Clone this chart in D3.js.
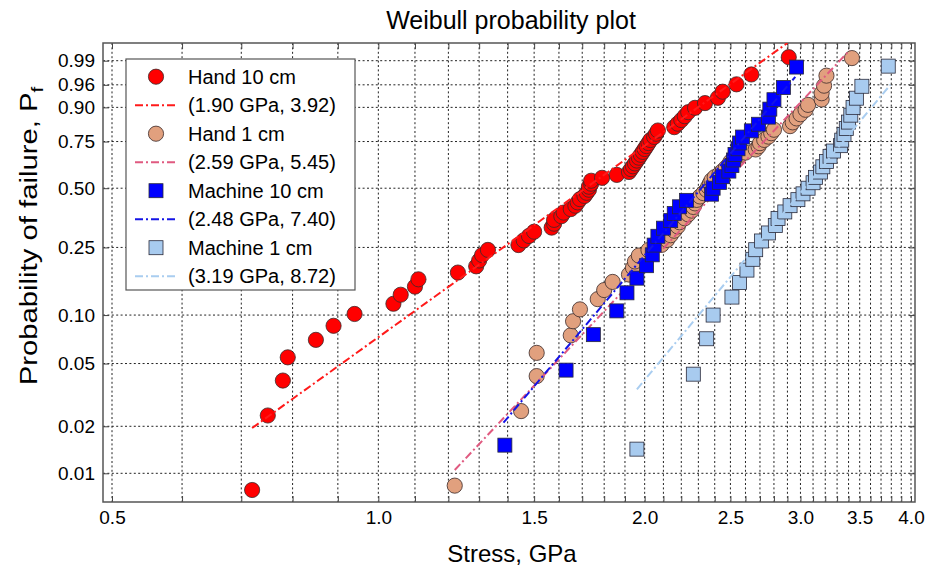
<!DOCTYPE html>
<html>
<head>
<meta charset="utf-8">
<script src="https://cdn.jsdelivr.net/npm/d3@7"></script>
<style>
  body { margin: 0; background: #fff; }
  text { font-family: "Liberation Sans", Arial, sans-serif; fill: #000; }
</style>
</head>
<body>
<div id="chart"></div>
<script>
// Stress values (GPa), sorted, one array per specimen set
const hand10Stress = [0.72,0.75,0.78,0.79,0.85,0.89,0.94,1.04,1.06,1.10,
  1.11,1.23,1.29,1.30,1.31,1.33,1.44,1.46,1.48,1.50,
  1.57,1.58,1.58,1.61,1.62,1.65,1.67,1.68,1.69,1.71,
  1.72,1.73,1.73,1.74,1.74,1.79,1.86,1.92,1.93,1.94,
  1.95,1.96,1.97,1.98,1.99,2.00,2.01,2.02,2.03,2.05,
  2.06,2.07,2.16,2.18,2.20,2.22,2.24,2.28,2.34,2.42,
  2.45,2.54,2.64,2.91];
const hand1Stress = [1.22,1.45,1.51,1.51,1.65,1.66,1.69,1.77,1.80,1.84,
  1.92,1.94,1.95,1.97,2.02,2.09,2.12,2.14,2.16,2.18,
  2.19,2.22,2.24,2.26,2.27,2.28,2.29,2.31,2.33,2.35,
  2.36,2.37,2.38,2.40,2.43,2.45,2.47,2.49,2.50,2.53,
  2.56,2.60,2.67,2.69,2.70,2.73,2.76,2.78,2.80,2.92,
  2.94,2.97,3.00,3.04,3.06,3.17,3.17,3.19,3.21,3.43];
const machine10Stress = [1.39,1.63,1.75,1.86,1.91,1.96,2.01,2.04,2.05,2.07,
  2.10,2.14,2.16,2.19,2.23,2.38,2.39,2.43,2.45,2.49,
  2.51,2.52,2.53,2.55,2.56,2.58,2.64,2.69,2.76,2.77,
  2.80,2.87,2.97];
const machine1Stress = [1.96,2.27,2.35,2.39,2.51,2.56,2.61,2.65,2.67,2.71,
  2.76,2.81,2.83,2.88,2.92,2.98,3.02,3.06,3.10,3.12,
  3.16,3.18,3.21,3.24,3.27,3.33,3.34,3.36,3.38,3.40,
  3.42,3.44,3.47,3.52,3.77];

// Fitted Weibull lines: [stress, Pf] end points as drawn
const fitHand10 = [[0.72, 0.0195], [2.90, 0.9975]];
const fitHand1 = [[1.22, 0.0105], [3.41, 0.9954]];
const fitMachine10 = [[1.385, 0.0211], [2.96, 0.9734]];
const fitMachine1 = [[1.96, 0.0344], [3.79, 0.9598]];

const seriesNames = ['Hand 10 cm', 'Hand 1 cm', 'Machine 10 cm', 'Machine 1 cm'];
const fitLabels = ['(1.90 GPa, 3.92)', '(2.59 GPa, 5.45)', '(2.48 GPa, 7.40)', '(3.19 GPa, 8.72)'];

const xTickValues = [0.5, 1.0, 1.5, 2.0, 2.5, 3.0, 3.5, 4.0];
const yTickValues = [0.01, 0.02, 0.05, 0.10, 0.25, 0.50, 0.75, 0.90, 0.96, 0.99];

const width = 936, height = 567;
const box = {left: 103, right: 915, top: 43, bottom: 502};

// Weibull probability transform
const weib = p => Math.log(-Math.log(1 - p));
// median rank plotting position for sorted data
const ranked = arr => arr.map((s, i) => ({s: s, p: (i + 0.5) / arr.length}));

const x = d3.scaleLog().domain([0.5, 4.0]).range([112, 911]);
const y = d3.scaleLinear().domain([weib(0.01), weib(0.99)]).range([473.3, 60.7]);

const svg = d3.select('#chart')
    .append('svg')
    .attr('width', width)
    .attr('height', height);

svg.append('defs').append('clipPath')
    .attr('id', 'clip')
    .append('rect')
    .attr('x', box.left).attr('y', box.top)
    .attr('width', box.right - box.left).attr('height', box.bottom - box.top);

// Grid
const xGrid = d3.range(5, 41).map(d => d / 10);
const grid = svg.append('g')
    .attr('stroke', '#222')
    .attr('stroke-width', 1)
    .attr('stroke-dasharray', '2,2.4');

grid.selectAll('line.v')
    .data(xGrid)
    .enter()
    .append('line')
    .attr('x1', d => x(d)).attr('x2', d => x(d))
    .attr('y1', box.top).attr('y2', box.bottom);

grid.selectAll('line.h')
    .data(yTickValues)
    .enter()
    .append('line')
    .attr('x1', box.left).attr('x2', box.right)
    .attr('y1', d => y(weib(d))).attr('y2', d => y(weib(d)));

// Axes with short inward ticks
const fmtX = d => xTickValues.some(v => Math.abs(v - d) < 1e-9) ? d.toFixed(1) : '';

function styleAxis(g) {
    g.select('.domain').remove();
    g.selectAll('.tick line').attr('stroke', '#444').attr('stroke-width', 1);
    g.selectAll('text')
        .style('font-family', '"Liberation Sans", Arial, sans-serif')
        .style('font-size', '19px')
        .attr('fill', '#000');
}

svg.append('g')
    .attr('transform', `translate(0,${box.bottom})`)
    .call(d3.axisBottom(x).tickValues(xGrid).tickFormat(fmtX).tickSizeInner(-6).tickSizeOuter(0).tickPadding(9))
    .call(styleAxis);

svg.append('g')
    .attr('transform', `translate(0,${box.top})`)
    .call(d3.axisTop(x).tickValues(xGrid).tickFormat('').tickSizeInner(-6).tickSizeOuter(0))
    .call(styleAxis);

svg.append('g')
    .attr('transform', `translate(${box.left},0)`)
    .call(d3.axisLeft(y).tickValues(yTickValues.map(weib)).tickFormat((d, i) => yTickValues[i].toFixed(2))
        .tickSizeInner(-6).tickSizeOuter(0).tickPadding(8))
    .call(styleAxis);

svg.append('g')
    .attr('transform', `translate(${box.right},0)`)
    .call(d3.axisRight(y).tickValues(yTickValues.map(weib)).tickFormat('').tickSizeInner(-6).tickSizeOuter(0))
    .call(styleAxis);

// Frame
svg.append('rect')
    .attr('x', box.left).attr('y', box.top)
    .attr('width', box.right - box.left).attr('height', box.bottom - box.top)
    .attr('fill', 'none')
    .attr('stroke', '#555')
    .attr('stroke-width', 1.5);

// Series
const series = [
    {data: hand10Stress, fit: fitHand10, shape: 'circle', fill: '#ff0000', line: '#ff1a1a'},
    {data: hand1Stress, fit: fitHand1, shape: 'circle', fill: '#e1a07e', line: '#e05a80'},
    {data: machine10Stress, fit: fitMachine10, shape: 'square', fill: '#0000ff', line: '#1414e6'},
    {data: machine1Stress, fit: fitMachine1, shape: 'square', fill: '#a8cbef', line: '#a9cdf0'}
];

const plotArea = svg.append('g').attr('clip-path', 'url(#clip)');
const lineGen = d3.line().x(d => x(d[0])).y(d => y(weib(d[1])));
const dashDot = '8,3,2,3';

function drawMarker(sel, shape, fill) {
    if (shape === 'circle') {
        sel.append('circle')
            .attr('r', 7.6)
            .attr('fill', fill)
            .attr('stroke', '#3a2a2a')
            .attr('stroke-width', 0.8);
    } else {
        sel.append('rect')
            .attr('x', -7).attr('y', -7)
            .attr('width', 14).attr('height', 14)
            .attr('fill', fill)
            .attr('stroke', '#2a2a3a')
            .attr('stroke-width', 0.8);
    }
}

series.forEach(s => {
    plotArea.append('g')
        .selectAll('g')
        .data(ranked(s.data))
        .enter()
        .append('g')
        .attr('transform', d => `translate(${x(d.s)},${y(weib(d.p))})`)
        .each(function () { drawMarker(d3.select(this), s.shape, s.fill); });

    plotArea.append('path')
        .datum(s.fit)
        .attr('d', lineGen)
        .attr('fill', 'none')
        .attr('stroke', s.line)
        .attr('stroke-width', 2)
        .attr('stroke-dasharray', dashDot);
});

// Legend
const legend = svg.append('g');
legend.append('rect')
    .attr('x', 126).attr('y', 59)
    .attr('width', 229).attr('height', 231)
    .attr('fill', '#fff')
    .attr('stroke', '#555')
    .attr('stroke-width', 1.2);

const rowH = 28.5, row0 = 76.7;
series.forEach((s, i) => {
    const ym = row0 + rowH * (2 * i);
    const yl = row0 + rowH * (2 * i + 1);
    const m = legend.append('g').attr('transform', `translate(156,${ym})`);
    drawMarker(m, s.shape, s.fill);
    legend.append('text')
        .attr('x', 188).attr('y', ym).attr('dy', '0.35em')
        .style('font-size', '20px')
        .text(seriesNames[i]);
    legend.append('line')
        .attr('x1', 135).attr('x2', 178)
        .attr('y1', yl).attr('y2', yl)
        .attr('stroke', s.line)
        .attr('stroke-width', 2)
        .attr('stroke-dasharray', dashDot);
    legend.append('text')
        .attr('x', 188).attr('y', yl).attr('dy', '0.35em')
        .style('font-size', '20px')
        .text(fitLabels[i]);
});

// Titles
svg.append('text')
    .attr('x', 511).attr('y', 29)
    .attr('text-anchor', 'middle')
    .style('font-size', '25px')
    .text('Weibull probability plot');

svg.append('text')
    .attr('x', 512).attr('y', 562)
    .attr('text-anchor', 'middle')
    .style('font-size', '24px')
    .text('Stress, GPa');

const yLabel = svg.append('text')
    .attr('transform', 'translate(37,236) rotate(-90) scale(1.22,1)')
    .attr('text-anchor', 'middle')
    .style('font-size', '24px');
yLabel.append('tspan').text('Probability of failure, P');
yLabel.append('tspan').attr('dy', 6).style('font-size', '17px').text('f');
</script>
</body>
</html>
